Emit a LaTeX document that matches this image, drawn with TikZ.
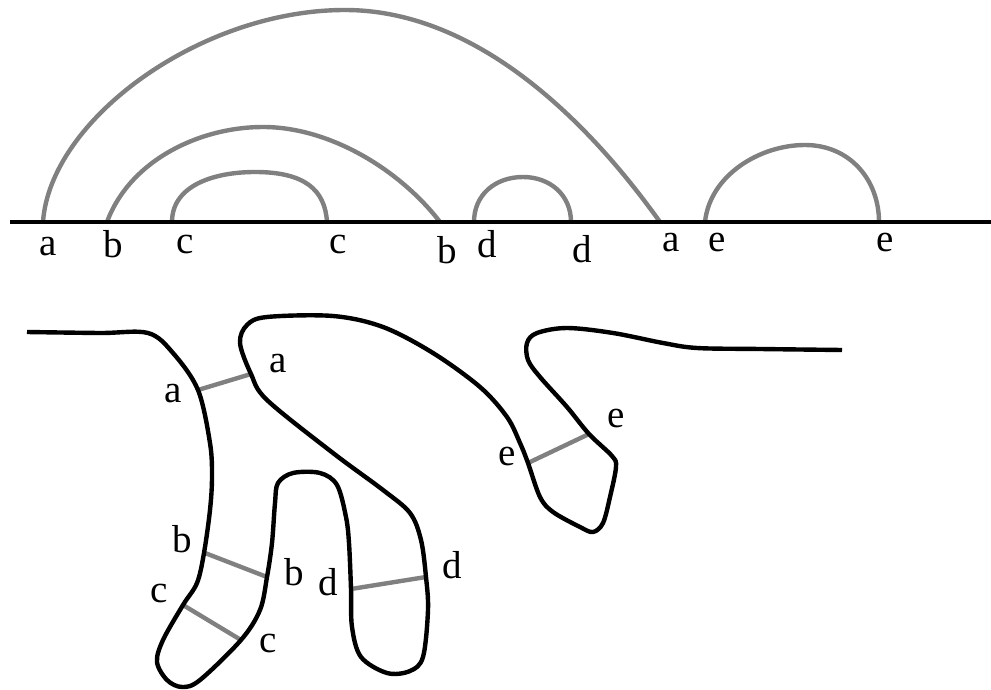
\documentclass[tikz,border=0pt]{standalone}
\usepackage{fontspec}
\setmainfont{Liberation Serif}
\begin{document}
\begin{tikzpicture}[x=1pt,y=-1pt,
  chord/.style={draw={rgb,255:red,128;green,128;blue,128},line width=4.4pt},
  edge/.style={draw=black,line width=4.4pt},
  lbl/.style={anchor=base,inner sep=0pt,font=\fontsize{39}{44}\selectfont}]
\useasboundingbox (0,0) rectangle (991,690);
% ---------- top: arc diagram ----------
\coordinate (L0) at (10,222);
\coordinate (R0) at (991,222);
\coordinate (ta1) at (43,222);  \coordinate (ta2) at (660,222);
\coordinate (tb1) at (107,222); \coordinate (tb2) at (440,222);
\coordinate (tc1) at (172,222); \coordinate (tc2) at (327,222);
\coordinate (td1) at (474,222); \coordinate (td2) at (571,222);
\coordinate (te1) at (705,222); \coordinate (te2) at (879,222);
\draw[chord] (ta1) .. controls (50,120) and (200,10) .. (345,10)
                   .. controls (470,10) and (580,110) .. (ta2);
\draw[chord] (tb1) .. controls (130,160) and (200,127) .. (263,127)
                   .. controls (330,127) and (400,170) .. (tb2);
\draw[chord] (tc1) .. controls (172,185) and (215,172) .. (255,172)
                   .. controls (305,172) and (325,190) .. (tc2);
\draw[chord] (td1) .. controls (474,195) and (495,177) .. (523,177)
                   .. controls (550,177) and (571,195) .. (td2);
\draw[chord] (te1) .. controls (710,175) and (760,145) .. (805,145)
                   .. controls (850,145) and (879,180) .. (te2);
\draw[edge] (L0) -- (R0);
\node[lbl] (la1) at (48,255) {a};
\node[lbl] (lb1) at (113,257) {b};
\node[lbl] (lc1) at (185,253) {c};
\node[lbl] (lc2) at (338,253) {c};
\node[lbl] (lb2) at (447,263) {b};
\node[lbl] (ld1) at (487,257) {d};
\node[lbl] (ld2) at (582,262) {d};
\node[lbl] (la2) at (671,251) {a};
\node[lbl] (le1) at (717,251) {e};
\node[lbl] (le2) at (885,251) {e};
% ---------- bottom: folded curve ----------
\coordinate (aL) at (198,390); \coordinate (aR) at (251,374);
\coordinate (bL) at (205,553); \coordinate (bR) at (267,577);
\coordinate (cL) at (183,605); \coordinate (cR) at (241,640);
\coordinate (dL) at (351,589); \coordinate (dR) at (426,577);
\coordinate (eL) at (528,463); \coordinate (eR) at (589,434);
\draw[chord] (aL) -- (aR);
\draw[chord] (bL) -- (bR);
\draw[chord] (cL) -- (cR);
\draw[chord] (dL) -- (dR);
\draw[chord] (eL) -- (eR);
\draw[edge,line join=round] plot[smooth,tension=0.55] coordinates {
 (27,332) (100,333) (148,333) (173,353) (198,390) (210,443) (212,477) (210,510)
 (204,553) (197,583) (183,605) (163,640) (157,662) (167,680) (182,687) (200,680)
 (241,640) (260,610) (267,577) (272,543) (275,503) (278,483) (293,473) (320,473)
 (337,485) (346,517) (349,543) (351,589) (352,627) (361,657) (387,673) (410,671)
 (423,657) (428,610) (426,577) (421,540) (410,513) (383,490) (333,453) (267,400)
 (251,374) (240,343) (247,325) (267,317) (333,316) (383,327) (433,353) (480,387)
 (507,417) (520,443) (528,463) (540,497) (553,512) (580,527) (593,532) (603,523)
 (610,497) (616,467) (612,456) (589,434) (567,407) (540,377) (528,360) (527,343)
 (537,333) (567,328) (613,333) (663,343) (697,348) (760,349) (842,350)};
\node[lbl] (ba1) at (173,402) {a};
\node[lbl] (ba2) at (278,372) {a};
\node[lbl] (bb1) at (182,552) {b};
\node[lbl] (bb2) at (294,585) {b};
\node[lbl] (bc1) at (159,602) {c};
\node[lbl] (bc2) at (268,652) {c};
\node[lbl] (bd1) at (328,595) {d};
\node[lbl] (bd2) at (452,578) {d};
\node[lbl] (be1) at (507,465) {e};
\node[lbl] (be2) at (616,427) {e};
\end{tikzpicture}
\end{document}
